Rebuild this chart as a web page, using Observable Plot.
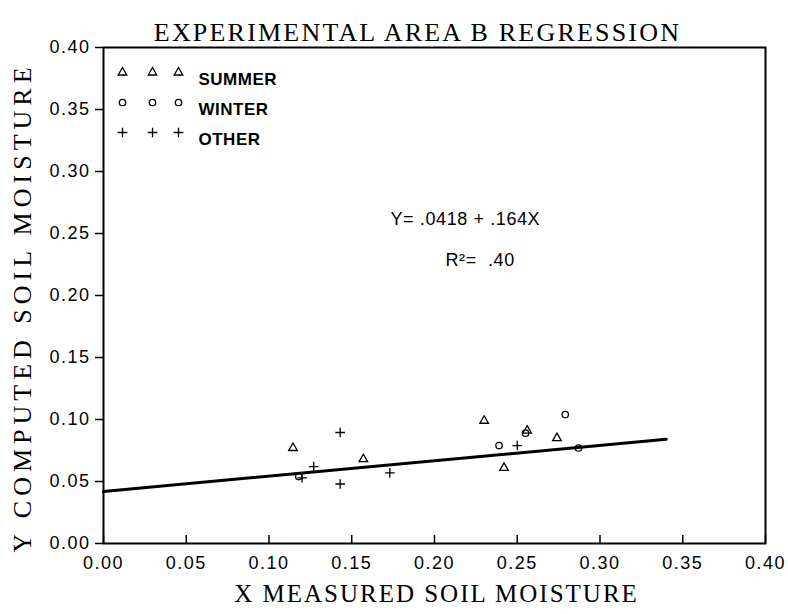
<!DOCTYPE html>
<html><head><meta charset="utf-8">
<script src="https://cdn.jsdelivr.net/npm/d3@7"></script>
<script src="https://cdn.jsdelivr.net/npm/@observablehq/plot@0.6"></script>
<style>
body{margin:0;background:#fff;}
.ttl text{letter-spacing:2.2px;}
.xlab text{letter-spacing:2px;}
.ylab text{letter-spacing:5px;}
.ticklab text{letter-spacing:1.5px;}
.leg text{letter-spacing:0.5px;}
.eq text{letter-spacing:0.6px;}
</style>
</head><body><div id="chart"></div>
<script>
const titleText = "EXPERIMENTAL AREA B REGRESSION";
const xLabel = "X MEASURED SOIL MOISTURE";
const yLabel = "Y COMPUTED SOIL MOISTURE";
const tickValues = [0, 0.05, 0.10, 0.15, 0.20, 0.25, 0.30, 0.35, 0.40];
const seriesNames = ["SUMMER", "WINTER", "OTHER"];
const seriesSymbols = ["triangle", "circle", "plus"];

const summerX = [0.1145, 0.157, 0.230, 0.242, 0.256, 0.274];
const summerY = [0.077, 0.068, 0.099, 0.061, 0.091, 0.085];
const winterX = [0.118, 0.239, 0.255, 0.279, 0.287];
const winterY = [0.054, 0.079, 0.089, 0.104, 0.077];
const otherX = [0.143, 0.143, 0.120, 0.127, 0.173, 0.250];
const otherY = [0.0895, 0.048, 0.053, 0.062, 0.057, 0.079];

const fitX = [0, 0.34];
const fitY = [0.042, 0.084];
const equationText = "Y= .0418 + .164X";
const r2Text = "R\u00B2=  .40";

const points = [
  ...summerX.map((x, i) => ({x, y: summerY[i], s: "SUMMER"})),
  ...winterX.map((x, i) => ({x, y: winterY[i], s: "WINTER"})),
  ...otherX.map((x, i) => ({x, y: otherY[i], s: "OTHER"}))
];
const fit = fitX.map((x, i) => ({x, y: fitY[i]}));
const symOf = s => seriesSymbols[seriesNames.indexOf(s)];

const serif = "Liberation Serif, DejaVu Serif, serif";
const sans = "Liberation Sans, Arial, sans-serif";

const legendMarks = [];
seriesNames.forEach((name, row) => {
  [19, 49, 75].forEach(dx => {
    legendMarks.push(Plot.dot([name], {frameAnchor: "top-left", dx, dy: 25 + row * 30,
      symbol: seriesSymbols[row], r: 3.2, stroke: "black", fill: "none", strokeWidth: 1.3}));
  });
  legendMarks.push(Plot.text([name], {frameAnchor: "top-left", dx: 95, dy: 25 + row * 30,
    text: d => d, textAnchor: "start", fontSize: 17, fontWeight: "bold", fontFamily: sans, className: "leg"}));
});

const chart = Plot.plot({
  width: 788, height: 614,
  marginTop: 47, marginLeft: 103, marginRight: 23, marginBottom: 71,
  style: {fontFamily: sans, fontSize: "18px", color: "black", background: "white"},
  x: {domain: [0, 0.40]},
  y: {domain: [0, 0.40]},
  marks: [
    Plot.axisY({ticks: tickValues, tickSize: 8, tickPadding: 5, tickFormat: d3.format(".2f"), label: null, strokeWidth: 1.5, className: "ticklab"}),
    Plot.axisX({ticks: tickValues, tickSize: 0, tickPadding: 13, tickFormat: d3.format(".2f"), label: null, className: "ticklab"}),
    Plot.axisX({ticks: tickValues, tickSize: 8, tickFormat: () => "", dy: -8, label: null, strokeWidth: 1.5}),
    Plot.frame({stroke: "black", strokeWidth: 2}),
    Plot.line(fit, {x: "x", y: "y", stroke: "black", strokeWidth: 3}),
    Plot.dot(points, {x: "x", y: "y", symbol: d => symOf(d.s), r: 3.2, stroke: "black", fill: "none", strokeWidth: 1.3}),
    ...legendMarks,
    Plot.text([equationText], {frameAnchor: "top-left", dx: 287, dy: 165, text: d => d, textAnchor: "start", fontSize: 18, fontFamily: sans, className: "eq"}),
    Plot.text([r2Text], {frameAnchor: "top-left", dx: 342, dy: 206, text: d => d, textAnchor: "start", fontSize: 18, fontFamily: sans, className: "eq"}),
    Plot.text([titleText], {frameAnchor: "top", dx: -17, dy: -25, text: d => d, fontSize: 26, fontFamily: serif, className: "ttl"}),
    Plot.text([xLabel], {frameAnchor: "bottom", dx: 2, dy: 58, text: d => d, fontSize: 25, fontFamily: serif, className: "xlab"}),
    Plot.text([yLabel], {frameAnchor: "left", textAnchor: "middle", dx: -81, dy: 12, rotate: -90, text: d => d, fontSize: 26, fontFamily: serif, className: "ylab"})
  ]
});
document.getElementById("chart").appendChild(chart);
</script>
</body></html>
